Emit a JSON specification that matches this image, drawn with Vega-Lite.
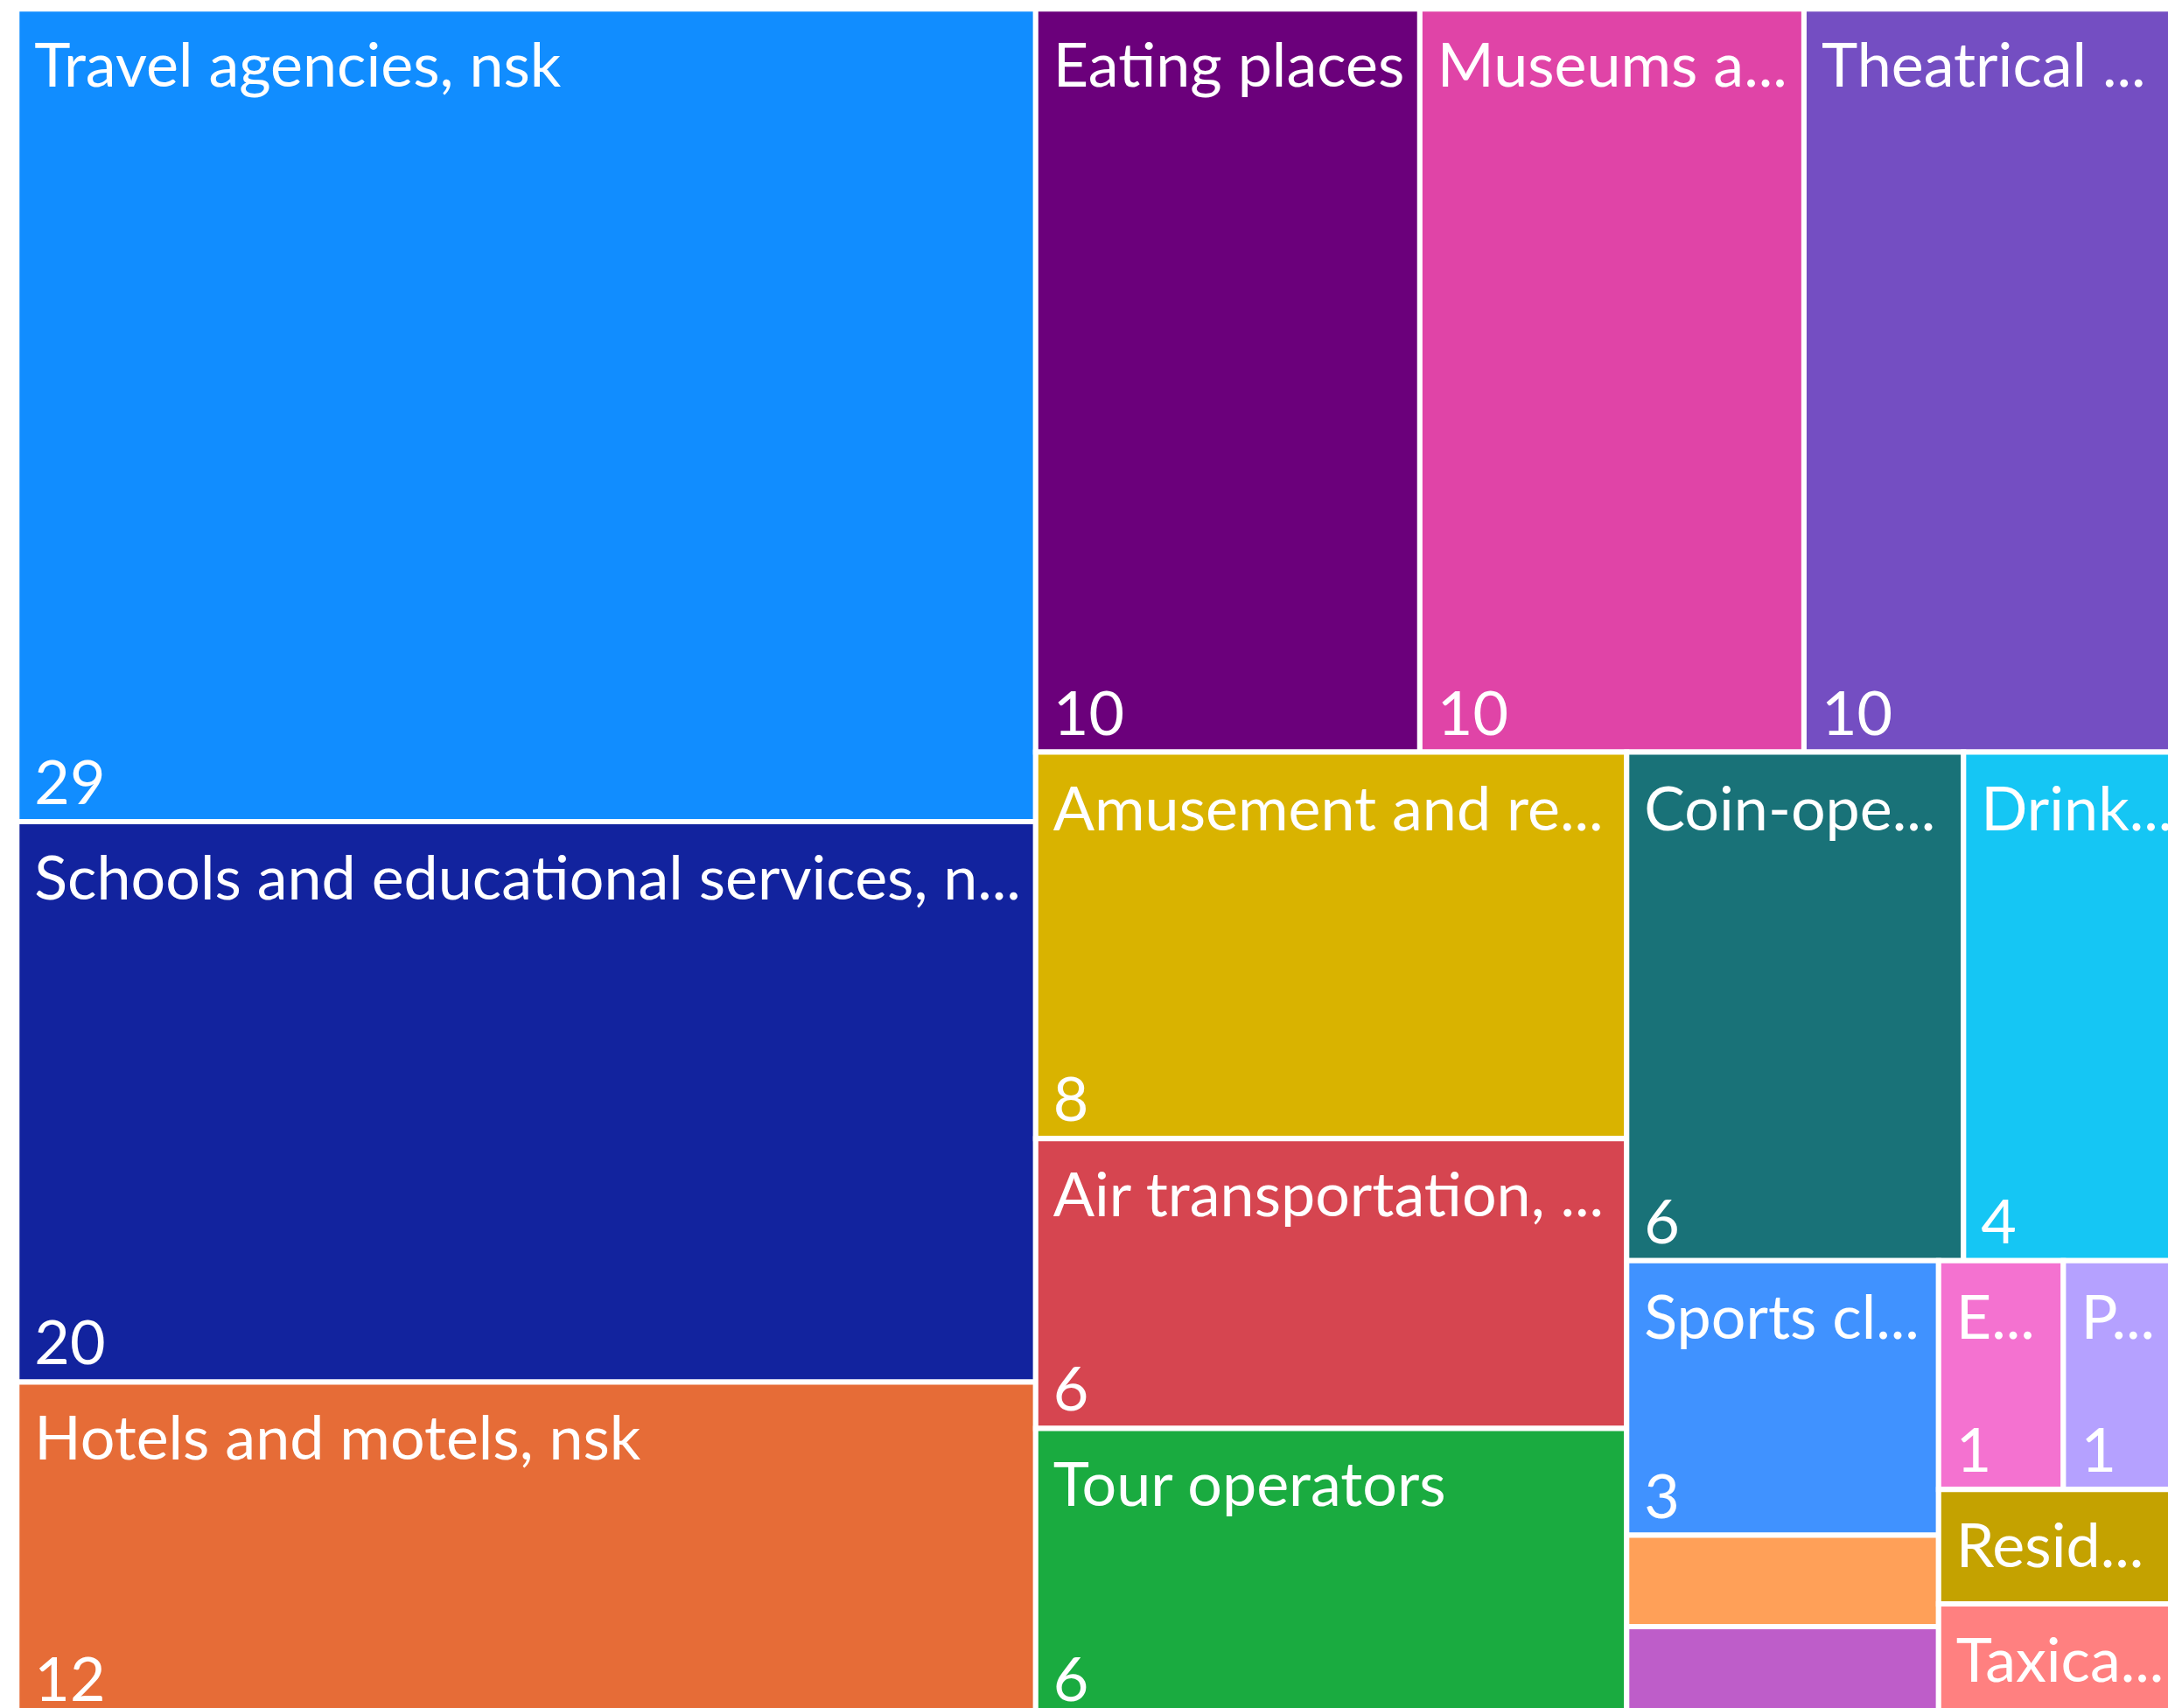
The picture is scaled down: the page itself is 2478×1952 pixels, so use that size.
{
  "$schema": "https://vega.github.io/schema/vega-lite/v6.json",
  "width": 2478,
  "height": 1952,
  "padding": 0,
  "autosize": {"type": "none"},
  "background": "white",
  "config": {"view": {"stroke": null}},
  "data": {
    "values": [
      {"name": "Travel agencies, nsk", "value": 29, "strip": 1, "rank": 1},
      {"name": "Schools and educational services, nsk", "value": 20, "strip": 1, "rank": 2},
      {"name": "Hotels and motels, nsk", "value": 12, "strip": 1, "rank": 3},
      {"name": "Eating places", "value": 10, "strip": 2, "rank": 4},
      {"name": "Museums and art galleries", "value": 10, "strip": 2, "rank": 5},
      {"name": "Theatrical producers, bands, orchestras and entertainers", "value": 10, "strip": 2, "rank": 6},
      {"name": "Amusement and recreation services, nec", "value": 8, "strip": 3, "rank": 7},
      {"name": "Air transportation, nsk", "value": 6, "strip": 3, "rank": 8},
      {"name": "Tour operators", "value": 6, "strip": 3, "rank": 9},
      {"name": "Coin-operated amusement devices", "value": 6, "strip": 4, "rank": 10},
      {"name": "Drinking places (alcoholic beverages)", "value": 4, "strip": 4, "rank": 11},
      {"name": "Sports clubs, managers and promoters", "value": 3, "strip": 5, "rank": 12},
      {"name": "Bowling centers", "value": 1, "strip": 5, "rank": 13},
      {"name": "Racing, including track operation", "value": 1, "strip": 5, "rank": 14},
      {"name": "Entertainers and entertainment groups", "value": 1, "strip": 6, "rank": 15},
      {"name": "Physical fitness facilities", "value": 1, "strip": 6, "rank": 16},
      {"name": "Residential care", "value": 1, "strip": 7, "rank": 17},
      {"name": "Taxicabs", "value": 1, "strip": 7, "rank": 18}
    ]
  },
  "transform": [
    {"joinaggregate": [{"op": "sum", "field": "value", "as": "T"}]},
    {"calculate": "datum.strip==1?datum.value:0", "as": "v1"},
    {"calculate": "datum.strip==2?datum.value:0", "as": "v2"},
    {"calculate": "datum.strip==3?datum.value:0", "as": "v3"},
    {"calculate": "datum.strip==4?datum.value:0", "as": "v4"},
    {"calculate": "datum.strip==5?datum.value:0", "as": "v5"},
    {"calculate": "datum.strip==6?datum.value:0", "as": "v6"},
    {"joinaggregate": [
      {"op": "sum", "field": "v1", "as": "S1"},
      {"op": "sum", "field": "v2", "as": "S2"},
      {"op": "sum", "field": "v3", "as": "S3"},
      {"op": "sum", "field": "v4", "as": "S4"},
      {"op": "sum", "field": "v5", "as": "S5"},
      {"op": "sum", "field": "v6", "as": "S6"}
    ]},
    {"joinaggregate": [{"op": "sum", "field": "value", "as": "S"}], "groupby": ["strip"]},
    {"window": [{"op": "sum", "field": "value", "as": "c1"}], "groupby": ["strip"], "sort": [{"field": "rank", "order": "ascending"}], "frame": [null, 0]},
    {"calculate": "datum.S1/datum.T", "as": "X1"},
    {"calculate": "(datum.S2/datum.T)/(1-datum.X1)", "as": "Y2"},
    {"calculate": "datum.X1+(datum.S3/datum.T)/(1-datum.Y2)", "as": "X3"},
    {"calculate": "datum.Y2+(datum.S4/datum.T)/(1-datum.X3)", "as": "Y4"},
    {"calculate": "datum.X3+(datum.S5/datum.T)/(1-datum.Y4)", "as": "X5"},
    {"calculate": "datum.Y4+(datum.S6/datum.T)/(1-datum.X5)", "as": "Y6"},
    {"calculate": "[0, datum.X1, datum.X1, datum.X3, datum.X3, datum.X5, datum.X5][datum.strip-1]", "as": "rx0"},
    {"calculate": "[datum.X1, 1, datum.X3, 1, datum.X5, 1, 1][datum.strip-1]", "as": "rx1"},
    {"calculate": "[0, 0, datum.Y2, datum.Y2, datum.Y4, datum.Y4, datum.Y6][datum.strip-1]", "as": "ry0"},
    {"calculate": "[1, datum.Y2, 1, datum.Y4, 1, datum.Y6, 1][datum.strip-1]", "as": "ry1"},
    {"calculate": "datum.strip%2==0", "as": "isRow"},
    {"calculate": "datum.isRow ? datum.rx0+(datum.rx1-datum.rx0)*(datum.c1-datum.value)/datum.S : datum.rx0", "as": "x0"},
    {"calculate": "datum.isRow ? datum.rx0+(datum.rx1-datum.rx0)*datum.c1/datum.S : datum.rx1", "as": "x1"},
    {"calculate": "datum.isRow ? datum.ry0 : datum.ry0+(datum.ry1-datum.ry0)*(datum.c1-datum.value)/datum.S", "as": "y0"},
    {"calculate": "datum.isRow ? datum.ry1 : datum.ry0+(datum.ry1-datum.ry0)*datum.c1/datum.S", "as": "y1"}
  ],
  "encoding": {
    "x": {"field": "x0", "type": "quantitative", "axis": null, "scale": {"domain": [0, 1], "range": [19.3, 2501], "nice": false, "zero": false}},
    "y": {"field": "y0", "type": "quantitative", "axis": null, "scale": {"domain": [0, 1], "range": [10.3, 1963.7], "nice": false, "zero": false}}
  },
  "layer": [
    {
      "mark": {"type": "rect", "stroke": "white", "strokeWidth": 6, "clip": true},
      "encoding": {
        "x2": {"field": "x1"},
        "y2": {"field": "y1"},
        "color": {
          "field": "name", "type": "nominal", "legend": null,
          "scale": {
            "domain": ["Travel agencies, nsk", "Schools and educational services, nsk", "Hotels and motels, nsk", "Eating places", "Museums and art galleries", "Theatrical producers, bands, orchestras and entertainers", "Amusement and recreation services, nec", "Air transportation, nsk", "Tour operators", "Coin-operated amusement devices", "Drinking places (alcoholic beverages)", "Sports clubs, managers and promoters", "Bowling centers", "Racing, including track operation", "Entertainers and entertainment groups", "Physical fitness facilities", "Residential care", "Taxicabs"],
            "range": ["#118DFF", "#12239E", "#E66C37", "#6B007B", "#E044A7", "#744EC2", "#D9B300", "#D64550", "#1AAB40", "#197278", "#15C6F4", "#4092FF", "#FFA058", "#BE5DC9", "#F472D0", "#B5A1FF", "#C4A200", "#FF8080"]
          }
        }
      }
    },
    {
      "transform": [{"filter": "datum.y1 - datum.y0 > 0.06"}],
      "mark": {"type": "text", "align": "left", "baseline": "alphabetic", "dx": 20, "dy": 89, "font": "Lato", "fontSize": 70, "fill": "white", "ellipsis": "...", "limit": {"expr": "(datum.x1 - datum.x0) * 2481.7 - 35.5"}, "clip": true},
      "encoding": {"text": {"field": "name", "type": "nominal"}}
    },
    {
      "transform": [{"filter": "datum.y1 - datum.y0 > 0.1"}],
      "mark": {"type": "text", "align": "left", "baseline": "alphabetic", "dx": 20, "dy": -20, "font": "Lato", "fontSize": 70, "fill": "white", "clip": true},
      "encoding": {"y": {"field": "y1", "type": "quantitative"}, "text": {"field": "value", "type": "quantitative"}}
    }
  ]
}
